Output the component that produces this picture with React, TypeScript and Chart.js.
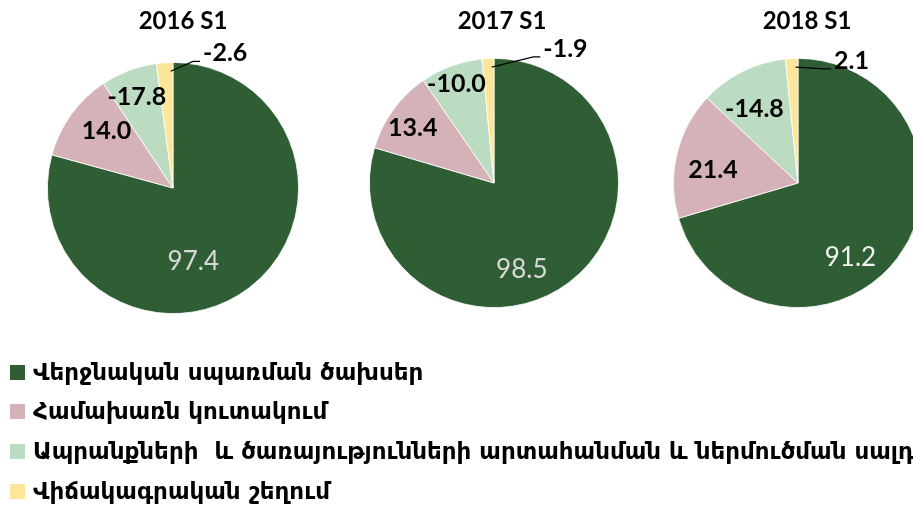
import React, { useEffect, useRef } from "react";
import { Chart, registerables } from "chart.js";
Chart.register(...registerables);

// ---- data ----
const categories = [
  "Վերջնական սպառման ծախսեր",
  "Համախառն կուտակում",
  "Ապրանքների  և ծառայությունների արտահանման և ներմուծման սալդո",
  "Վիճակագրական շեղում",
];
const periods = ["2016 S1", "2017 S1", "2018 S1"];
// slice sizes as drawn
const slices2016 = [97.4, 14.0, 8.9, 2.6];
const slices2017 = [98.5, 13.4, 10.0, 1.9];
const slices2018 = [91.2, 21.4, 14.8, 2.1];
// values printed on the slices
const labels2016 = [97.4, 14.0, -17.8, -2.6];
const labels2017 = [98.5, 13.4, -10.0, -1.9];
const labels2018 = [91.2, 21.4, -14.8, 2.1];

// ---- styles / layout ----
const COLORS = ["#2f5e34", "#d4b2b7", "#bbdcc0", "#fde599"];
const PAGE_W = 913;
const PAGE_H = 506;
const pies = [
  { cx: 173, cy: 188, r: 126, titleDx: 10, shifts: [22, 5, -1, 25], fracs: [0.61, 0.7, 0.78, 1.15], green: "#d9d9d9" },
  { cx: 494, cy: 183, r: 125, titleDx: 8, shifts: [19, -1.6, -0.7, 30.8], fracs: [0.73, 0.79, 0.85, 1.22], green: "#d9d9d9" },
  { cx: 798, cy: 183, r: 125, titleDx: 9, shifts: [18, -4.7, -4, 26.6], fracs: [0.73, 0.69, 0.69, 1.07], green: "#f2f2f2" },
];
const sliceSets = [slices2016, slices2017, slices2018];
const labelSets = [labels2016, labels2017, labels2018];

const decorPlugin = {
  id: "pieDecor",
  afterDatasetsDraw(chart: any, _args: any, opts: any) {
    const ctx = chart.ctx as CanvasRenderingContext2D;
    const meta = chart.getDatasetMeta(0);
    const ca = chart.chartArea;
    ctx.save();
    // title
    ctx.fillStyle = "#000";
    ctx.font = "bold 24px Lato";
    ctx.textAlign = "center";
    ctx.textBaseline = "middle";
    ctx.fillText(opts.title, (ca.left + ca.right) / 2 + opts.titleDx, 21);
    meta.data.forEach((arc: any, i: number) => {
      const p = arc.getProps(["x", "y", "startAngle", "endAngle", "outerRadius"], true);
      const mid = (p.startAngle + p.endAngle) / 2 + (opts.shifts[i] * Math.PI) / 180;
      const px = p.x + Math.cos(mid) * p.outerRadius * opts.fracs[i];
      const py = p.y + Math.sin(mid) * p.outerRadius * opts.fracs[i];
      const text = Number(opts.texts[i]).toFixed(1);
      if (i === 0) {
        ctx.font = "26px Lato";
        ctx.fillStyle = opts.green;
      } else {
        ctx.font = "bold 25px Lato";
        ctx.fillStyle = "#000";
      }
      ctx.textAlign = "center";
      ctx.textBaseline = "middle";
      ctx.fillText(text, px, py);
      if (opts.fracs[i] > 1) {
        const w = ctx.measureText(text).width;
        const left = px - w / 2;
        const a = p.endAngle - 0.02;
        const sx = p.x + Math.cos(a) * p.outerRadius * 0.93;
        const sy = p.y + Math.sin(a) * p.outerRadius * 0.93;
        ctx.strokeStyle = "#000";
        ctx.lineWidth = 1.2;
        ctx.beginPath();
        ctx.moveTo(sx, sy);
        ctx.lineTo(left - 10, py + 8);
        ctx.lineTo(left - 3, py + 8);
        ctx.stroke();
      }
    });
    ctx.restore();
  },
};

function PieCanvas({ index }: { index: number }) {
  const ref = useRef<HTMLCanvasElement>(null);
  const pie = pies[index];
  const W = Math.max(PAGE_W, pie.cx + pie.r + 20);
  useEffect(() => {
    const chart = new Chart(ref.current as HTMLCanvasElement, {
      type: "pie",
      data: {
        labels: categories,
        datasets: [
          {
            data: sliceSets[index],
            backgroundColor: COLORS,
            borderColor: "#ffffff",
            borderWidth: 0.8,
          },
        ],
      },
      plugins: [decorPlugin],
      options: {
        responsive: false,
        animation: false,
        events: [],
        layout: {
          padding: {
            left: pie.cx - pie.r,
            top: pie.cy - pie.r,
            right: W - (pie.cx + pie.r),
            bottom: PAGE_H - (pie.cy + pie.r),
          },
        },
        plugins: {
          legend: { display: false },
          tooltip: { enabled: false },
          pieDecor: {
            title: periods[index],
            titleDx: pie.titleDx,
            texts: labelSets[index],
            shifts: pie.shifts,
            fracs: pie.fracs,
            green: pie.green,
          },
        } as any,
      },
    });
    return () => chart.destroy();
  }, []);
  return (
    <canvas
      ref={ref}
      width={W}
      height={PAGE_H}
      style={{ position: "absolute", left: 0, top: 0, width: W, height: PAGE_H }}
    />
  );
}

const legendRows = [372, 411, 451, 491];

export default function App() {
  return (
    <div
      style={{
        position: "absolute",
        left: 0,
        top: 0,
        width: PAGE_W,
        height: PAGE_H,
        overflow: "hidden",
        background: "#fff",
      }}
    >
      {pies.map((_, i) => (
        <PieCanvas key={i} index={i} />
      ))}
      {categories.map((c, i) => (
        <div
          key={c}
          style={{
            position: "absolute",
            left: 10,
            top: legendRows[i] - 15,
            height: 30,
            display: "flex",
            alignItems: "center",
            whiteSpace: "pre",
            fontFamily: "'DejaVu Sans', sans-serif",
            fontWeight: "bold",
            fontSize: 23,
            color: "#000",
          }}
        >
          <span style={{ display: "inline-block", width: 15, height: 15, background: COLORS[i], marginRight: 8 }} />
          <span>{c}</span>
        </div>
      ))}
    </div>
  );
}
